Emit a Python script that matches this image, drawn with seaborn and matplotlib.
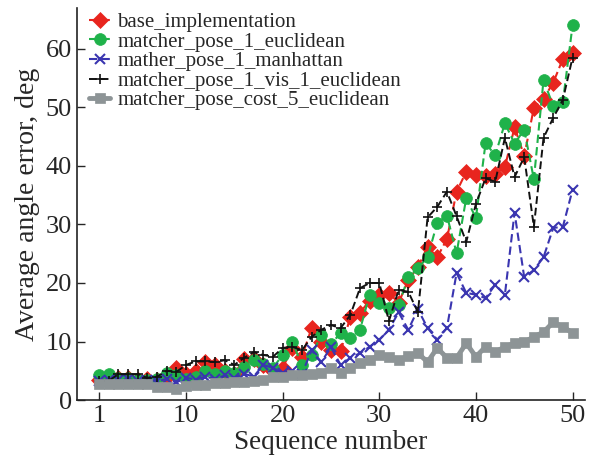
import numpy as np
import pandas as pd
import matplotlib
matplotlib.use("Agg")
import matplotlib.pyplot as plt
import seaborn as sns

# sequence numbers 1..50
seq = list(range(1, 51))

base_implementation = [
    3.4, 3.6, 3.8, 3.7, 3.5, 3.6, 3.5, 4.0, 5.5, 4.5,
    5.0, 6.5, 6.0, 5.0, 4.5, 7.0, 7.0, 6.0, 5.0, 5.5,
    8.9, 7.4, 12.3, 10.0, 8.5, 8.3, 14.2, 14.9, 17.0, 18.0,
    18.3, 16.6, 20.5, 22.7, 26.2, 24.4, 27.5, 35.6, 39.0, 38.5,
    38.2, 38.7, 39.8, 46.6, 41.7, 49.9, 51.5, 54.2, 58.3, 59.3]

matcher_pose_1_euclidean = [
    4.3, 4.4, 3.8, 3.7, 3.5, 3.4, 3.6, 4.6, 4.2, 3.6,
    4.0, 5.0, 4.4, 5.0, 4.6, 5.6, 6.8, 6.2, 5.5, 7.7,
    9.9, 6.0, 7.7, 11.1, 9.5, 11.5, 10.6, 12.0, 18.0, 16.5,
    15.8, 16.2, 21.0, 22.5, 24.4, 30.3, 31.5, 25.1, 34.5, 31.1,
    43.9, 41.8, 47.3, 43.8, 46.2, 37.7, 54.7, 50.2, 50.9, 64.0]

mather_pose_1_manhattan = [
    3.3, 3.5, 3.4, 3.6, 3.3, 3.5, 3.2, 3.6, 3.0, 3.8,
    3.5, 4.0, 3.6, 4.2, 3.8, 4.5, 4.0, 6.0, 5.5, 4.6,
    5.0, 4.5, 8.5, 6.5, 9.0, 6.0, 7.2, 8.0, 9.1, 10.3,
    12.0, 15.0, 12.0, 15.5, 12.3, 10.3, 12.3, 21.7, 18.3, 18.0,
    17.4, 19.7, 18.0, 32.0, 21.0, 22.2, 24.4, 29.4, 29.6, 35.9]

matcher_pose_1_vis_1_euclidean = [
    3.3, 3.3, 4.4, 4.4, 4.4, 3.8, 4.0, 5.0, 4.8, 6.0,
    6.6, 6.6, 6.5, 6.8, 6.0, 7.2, 8.2, 7.7, 7.4, 8.9,
    9.1, 8.5, 10.8, 12.0, 12.8, 12.3, 14.5, 19.1, 20.0, 20.0,
    13.5, 18.8, 18.5, 15.0, 31.2, 33.0, 35.6, 31.4, 27.0, 33.5,
    37.9, 37.3, 44.8, 38.1, 41.5, 29.6, 44.8, 48.2, 51.3, 58.5]

matcher_pose_cost_5_euclidean = [
    2.7, 2.7, 2.7, 2.7, 2.7, 2.7, 2.3, 2.3, 1.8, 2.4,
    2.6, 2.6, 2.9, 2.9, 3.0, 3.1, 3.3, 3.4, 3.9, 3.9,
    4.3, 4.3, 4.4, 4.6, 5.5, 4.6, 5.5, 6.3, 6.8, 7.7,
    7.4, 6.8, 7.5, 8.0, 6.5, 8.9, 7.2, 7.2, 9.7, 7.4,
    9.1, 8.2, 9.1, 9.7, 9.9, 10.8, 11.6, 13.3, 12.5, 11.5]

x_ticks = [1, 10, 20, 30, 40, 50]
y_ticks = [0, 10, 20, 30, 40, 50, 60]

sns.set_style("ticks")
plt.rcParams['font.family'] = ['Liberation Serif', 'DejaVu Serif']
plt.rcParams['xtick.direction'] = 'in'
plt.rcParams['ytick.direction'] = 'in'

fig = plt.figure(figsize=(5.91, 4.63), dpi=100)
ax = fig.add_axes([0.130, 0.136, 0.86, 0.847])

# series: (label, values, color, marker, size, edge width, linestyle, linewidth)
series = [
    ('base_implementation', base_implementation, '#e8251e', 'D', 8, 0.5, (0, (4, 2)), 1.5),
    ('matcher_pose_1_euclidean', matcher_pose_1_euclidean, '#1fb24a', 'o', 8.5, 0.5, (0, (4, 2)), 1.5),
    ('mather_pose_1_manhattan', mather_pose_1_manhattan, '#3a35b0', 'x', 7, 1.5, (0, (4, 2)), 1.5),
    ('matcher_pose_1_vis_1_euclidean', matcher_pose_1_vis_1_euclidean, '#111111', '+', 7, 1.2, (0, (4, 2)), 1.4),
    ('matcher_pose_cost_5_euclidean', matcher_pose_cost_5_euclidean, '#8d9496', 's', 7, 0.5, '-', 3.5),
]

for label, vals, col, mk, ms, mew, ls, lw in series:
    sns.lineplot(x=seq, y=vals, ax=ax, color=col, marker=mk, markersize=ms,
                 markeredgewidth=mew, markeredgecolor=col,
                 linestyle=ls, linewidth=lw, label=label)

ax.set_xlim(-1.3, 51.3)
ax.set_ylim(0, 67)
ax.set_xticks(x_ticks)
ax.set_yticks(y_ticks)
ax.tick_params(labelsize=19, length=6, width=1)
ax.set_xlabel('Sequence number', fontsize=19.5, labelpad=2)
ax.set_ylabel('Average angle error, deg', fontsize=20, labelpad=4)
sns.despine(ax=ax)
for s in ('left', 'bottom'):
    ax.spines[s].set_linewidth(1.2)
    ax.spines[s].set_color('#222222')

ax.legend(loc='upper left', bbox_to_anchor=(0.0, 1.02), frameon=False,
          fontsize=15, handlelength=1.0, handletextpad=0.35, labelspacing=0.0,
          borderaxespad=0.2)

fig.savefig('out.png', dpi=100)
